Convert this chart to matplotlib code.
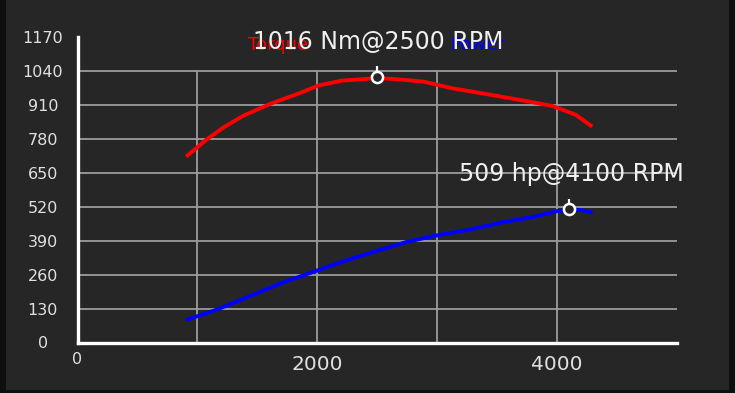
import matplotlib.pyplot as plt
from matplotlib.patches import Rectangle
import matplotlib.transforms as mtransforms

plt.rcParams['font.family'] = ['DejaVu Sans']

# data
rpm = [907, 1073, 1229, 1386, 1620, 1854, 2010, 2206, 2401, 2500, 2675, 2890,
       3124, 3456, 3769, 3964, 4160, 4296]
torque = [711, 775, 826, 868, 915, 954, 983, 1002, 1008, 1012, 1007, 998,
          973, 947, 922, 905, 871, 826]
rpm_hp = [907, 1152, 1426, 1700, 1973, 2208, 2481, 2756, 2990, 3264, 3537,
          3811, 4007, 4100, 4201, 4298]
power = [86, 124, 175, 227, 271, 309, 348, 386, 409, 431, 459, 481, 503,
         507, 507, 497]
peak_torque = (2500, 1016)
peak_power = (4100, 509)
yticks = [0, 130, 260, 390, 520, 650, 780, 910, 1040, 1170]
xticks = [0, 2000, 4000]

bg = '#262626'
fig = plt.figure(figsize=(7.35, 3.93), dpi=100)
fig.patch.set_facecolor(bg)
# dark edges on left, right and bottom
for r in [(0, 0, 6 / 735, 1), (729 / 735, 0, 6 / 735, 1), (0, 0, 1, 3 / 393)]:
    fig.patches.append(Rectangle(r[:2], r[2], r[3], transform=fig.transFigure,
                                 facecolor='#0e0e0e', edgecolor='none'))

ax = fig.add_axes([77.5 / 735, 50.5 / 393, 599 / 735, 305.8 / 393])
ax.set_facecolor(bg)
ax.set_xlim(0, 5000)
ax.set_ylim(0, 1170)

# grid (stops at 1040)
ax.hlines(yticks[1:-1], 0, 5000, color='#9c9c9c', lw=1.3, zorder=1)
ax.vlines([1000, 2000, 3000, 4000], 0, 1040, color='#9c9c9c', lw=1.3, zorder=1)

ax.plot(rpm, torque, color='#ff0000', lw=2.8, zorder=3, solid_capstyle='butt')
ax.plot(rpm_hp, power, color='#0000ff', lw=2.8, zorder=3, solid_capstyle='butt')

# peak markers
up = mtransforms.offset_copy(ax.transData, fig=fig, x=0, y=5.5, units='points')
for px, py in [peak_torque, peak_power]:
    ax.plot([px], [py], marker='o', ms=8, mfc=bg, mec='white', mew=1.8, zorder=5)
    ax.plot([px], [py], marker='|', ms=4, mec='white', mew=1.6, transform=up, zorder=5)

for s in ['top', 'right']:
    ax.spines[s].set_visible(False)
for s in ['left', 'bottom']:
    ax.spines[s].set_color('white')
    ax.spines[s].set_linewidth(2.4)

ax.set_yticks(yticks)
ax.set_yticklabels([str(v) for v in yticks])
ax.tick_params(axis='y', length=0, pad=25, labelsize=11.5, labelcolor='#e0e0e0')
for lab in ax.get_yticklabels():
    lab.set_horizontalalignment('center')
ax.set_xticks([])

xt = ax.get_xaxis_transform()
ax.text(0, -0.054, '0', transform=xt, ha='center', va='center', fontsize=11.5, color='#e0e0e0')
for v in xticks[1:]:
    ax.text(v, -0.0726, str(v), transform=xt, ha='center', va='center', fontsize=14.5, color='#e0e0e0')

# legend labels and peak annotations
fig.text(278 / 735, 1 - 45 / 393, 'Torque', color='#ff0000', fontsize=13, ha='center', va='center')
fig.text(478 / 735, 1 - 45 / 393, 'Power', color='#0000ff', fontsize=13, ha='center', va='center')
fig.text(378 / 735, 1 - 42 / 393, '1016 Nm@2500 RPM', color='#f0f0f0', fontsize=17,
         ha='center', va='center')
fig.text(571 / 735, 1 - 174 / 393, '509 hp@4100 RPM', color='#f0f0f0', fontsize=17,
         ha='center', va='center')

fig.savefig('out.png', dpi=100, facecolor=fig.get_facecolor())
